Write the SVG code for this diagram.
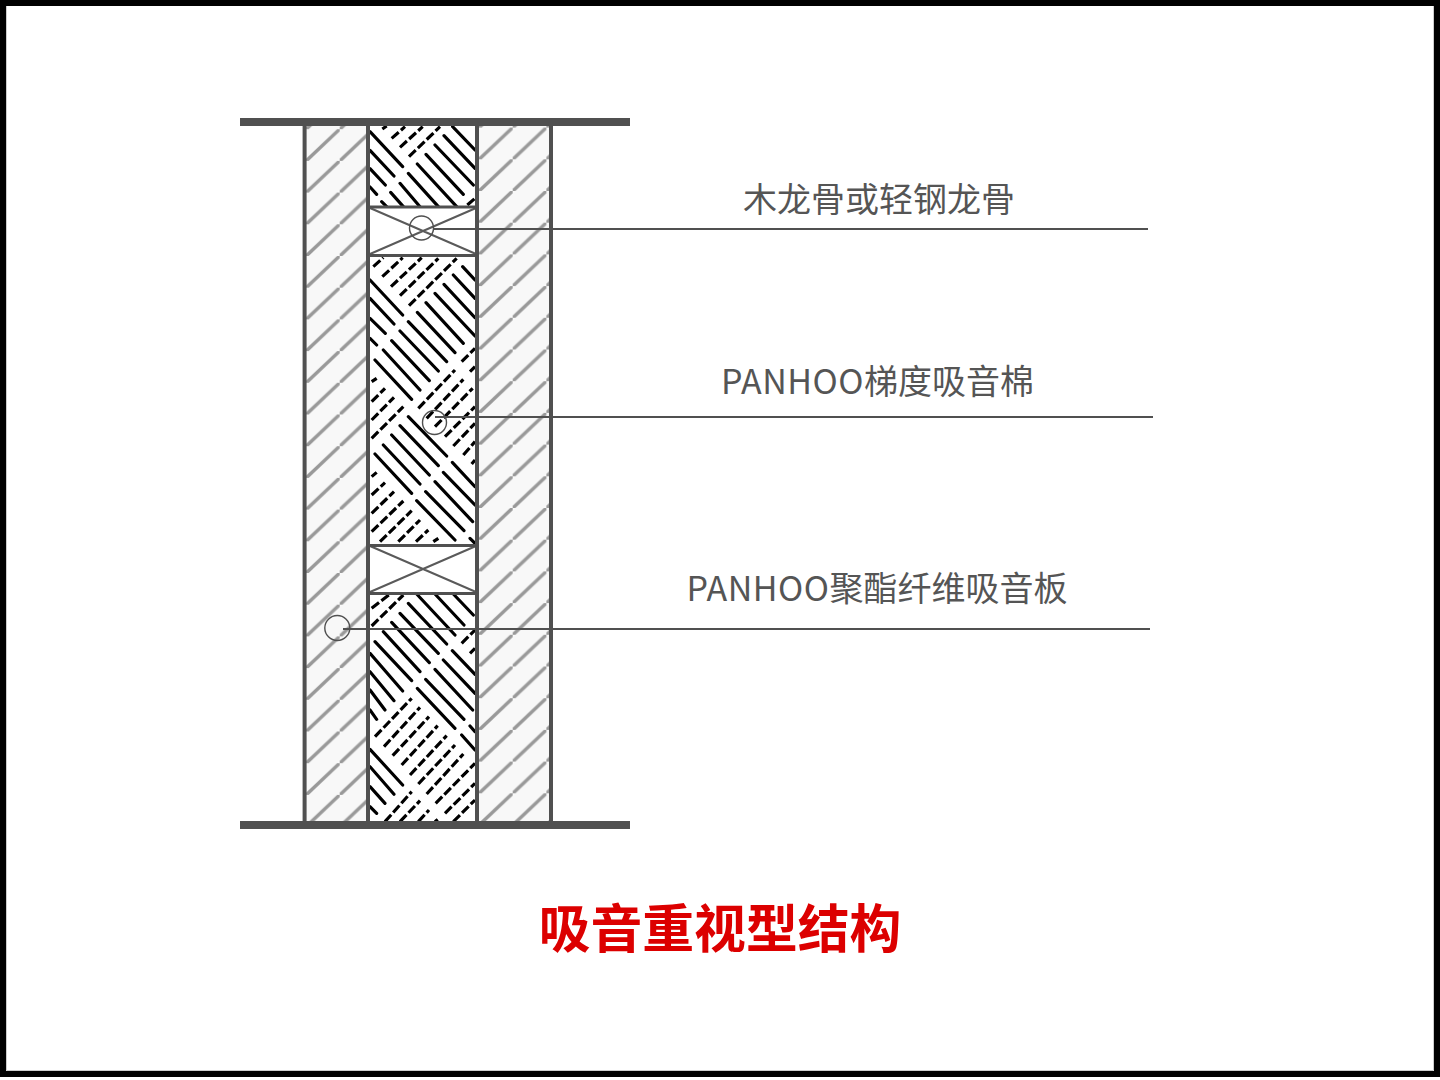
<svg xmlns="http://www.w3.org/2000/svg" width="1440" height="1080" viewBox="0 0 1440 1080">
<style>
.lab{font-family:"Noto Sans CJK SC","Noto Sans",sans-serif;font-size:34px;fill:#555;text-anchor:middle;font-weight:400}
.lat{letter-spacing:.5px}
.title{font-family:"Noto Sans CJK SC",sans-serif;font-size:51.8px;fill:#dc0000;text-anchor:middle;font-weight:700}
.bar{fill:#505050}
.wall{fill:none;stroke:#505050;stroke-width:4}
.s{stroke:#000;stroke-width:9.5;fill:none;stroke-linecap:round}
.d{stroke:#000;stroke-width:9.5;fill:none;stroke-dasharray:28 9}
.x{stroke:#5a5a5a;stroke-width:2;fill:none}
.lead{stroke:#505050;stroke-width:2;fill:none}
.cir{stroke:#505050;stroke-width:1.4;fill:none}
</style>
<defs>
<pattern id="hl" patternUnits="userSpaceOnUse" width="33.7" height="31.7" patternTransform="translate(306 2.4)">
<rect width="33.7" height="31.7" fill="#f8f8f8"/>
<path d="M-3.37 35.1L37 -3.2" stroke="#999" stroke-width="3.4"/>
</pattern>
<pattern id="hr" patternUnits="userSpaceOnUse" width="33.7" height="31.7" patternTransform="translate(479 0.8)">
<rect width="33.7" height="31.7" fill="#f8f8f8"/>
<path d="M-3.37 35.1L37 -3.2" stroke="#999" stroke-width="3.4"/>
</pattern>
<clipPath id="c"><rect x="370" y="126" width="105.5" height="695"/></clipPath>
</defs>
<rect width="1440" height="1080" fill="#fff"/>
<rect x="3" y="3" width="1434" height="1071" fill="none" stroke="#000" stroke-width="6"/>
<path d="M6.5 6V1070.5H1433.5V6" fill="none" stroke="#ccc" stroke-width="1"/>
<g id="wall-left"><rect x="305" y="126" width="62" height="695" fill="url(#hl)"/></g>
<g id="wall-right"><rect x="478" y="126" width="72" height="695" fill="url(#hr)"/></g>
<g id="insulation" clip-path="url(#c)">
<g transform="translate(230 105) scale(.33333)">
<path class="s" d="M420 80L518 185M420 136L492 213M420 191L466 240M420 246L440 268M668 65L735 135M642 92L735 190M615 120L730 240M588 148L700 268M562 177L680 305M535 205L625 305M510 235L570 305M482 262L520 305M455 290L470 305"/>
<path class="d" d="M457 72L470 63M485 100L525 65M510 127L578 65M537 155L630 65M712 300L735 280"/>
</g>
<g transform="translate(290 340) scale(.33333)">
<path class="s" d="M240 -180L338 -75M240 -125L312 -48M240 -65L286 -20M240 -5L260 15M490 -195L555 -125M462 -167L555 -67M435 -140L555 -12M408 -112L520 10M382 -83L495 38M355 -55L470 65M330 -27L445 93M305 2L418 122M280 30L390 150M255 60L365 178M255 342L365 460M280 315L390 432M305 285L418 405M330 257L445 377M355 230L470 348M380 482L495 600M407 455L522 572M435 425L548 545M460 397L555 495M487 367L555 440M540 595L555 610M518 -220L555 -180"/>
<path class="d" d="M250 -220L280 -247M277 -190L338 -247M303 -160L395 -247M330 -133L445 -245M357 -103L500 -245M515 65L555 25M540 95L555 80M245 125L260 115M245 185L285 145M245 240L312 172M245 295L340 200M385 205L495 90M410 235L520 118M435 260L548 145M465 290L555 200M490 318L555 250M520 345L555 305M545 372L555 360M245 410L260 397M245 465L285 428M245 520L312 455M245 575L340 483M270 605L365 512M325 605L390 540M378 605L415 570M430 605L445 595"/>
</g>
<g transform="translate(290 590) scale(.33333)">
<path class="s" d="M490 12L550 75M435 12L522 105M380 12L495 135M355 40L470 162M330 70L445 190M305 97L418 218M280 125L390 245M255 155L365 272M240 190L338 303M240 245L312 332M240 300L285 360M240 360L260 388M382 295L495 415M407 268L522 388M435 238L548 360M460 210L555 310M487 182L555 253M540 408L555 425M515 435L555 480M240 478L338 585M240 530L312 613M240 590L285 640M240 650L260 670"/>
<path class="d" d="M245 55L300 12M245 108L340 15M515 160L555 120M540 190L555 175M255 440L365 325M282 470L390 352M308 497L417 380M335 525L443 407M360 555L470 437M385 582L495 465M410 612L520 492M437 640L555 520M465 670L555 580M285 695L365 605M330 695L390 632M385 695L417 660M435 695L443 688M490 695L555 630"/>
</g>
</g>
<g id="stud-1">
<rect x="368" y="207" width="109" height="48.5" fill="#fff"/>
<path class="x" d="M370 208L476 254M370 254L476 208"/>
<path d="M367 207H478M367 255.5H478" stroke="#505050" stroke-width="3" fill="none"/>
</g>
<g id="stud-2">
<rect x="368" y="545" width="109" height="48.5" fill="#fff"/>
<path class="x" d="M370 546L476 592M370 592L476 546"/>
<path d="M367 545.5H478M367 593.5H478" stroke="#505050" stroke-width="3" fill="none"/>
</g>
<g id="frame">
<path class="wall" d="M304.6 126V821M368 126V821M477 126V821M551 126V821"/>
<rect class="bar" x="240" y="118" width="390" height="8"/>
<rect class="bar" x="240" y="821" width="390" height="8"/>
</g>
<g id="connectors">
<path class="lead" d="M433 229H1148M435 417H1153M343 629H1150"/>
</g>
<g id="label-1"><circle class="cir" cx="421.5" cy="228" r="12"/><text class="lab" x="879" y="212">木龙骨或轻钢龙骨</text></g>
<g id="label-2"><circle class="cir" cx="434.5" cy="422.5" r="12"/><text class="lab" x="877.5" y="394"><tspan class="lat">PANHOO</tspan>梯度吸音棉</text></g>
<g id="label-3"><circle class="cir" cx="337.3" cy="628" r="12.5"/><text class="lab" x="877" y="601"><tspan class="lat">PANHOO</tspan>聚酯纤维吸音板</text></g>
<g id="title"><text class="title" x="720" y="947.5">吸音重视型结构</text></g>
</svg>
